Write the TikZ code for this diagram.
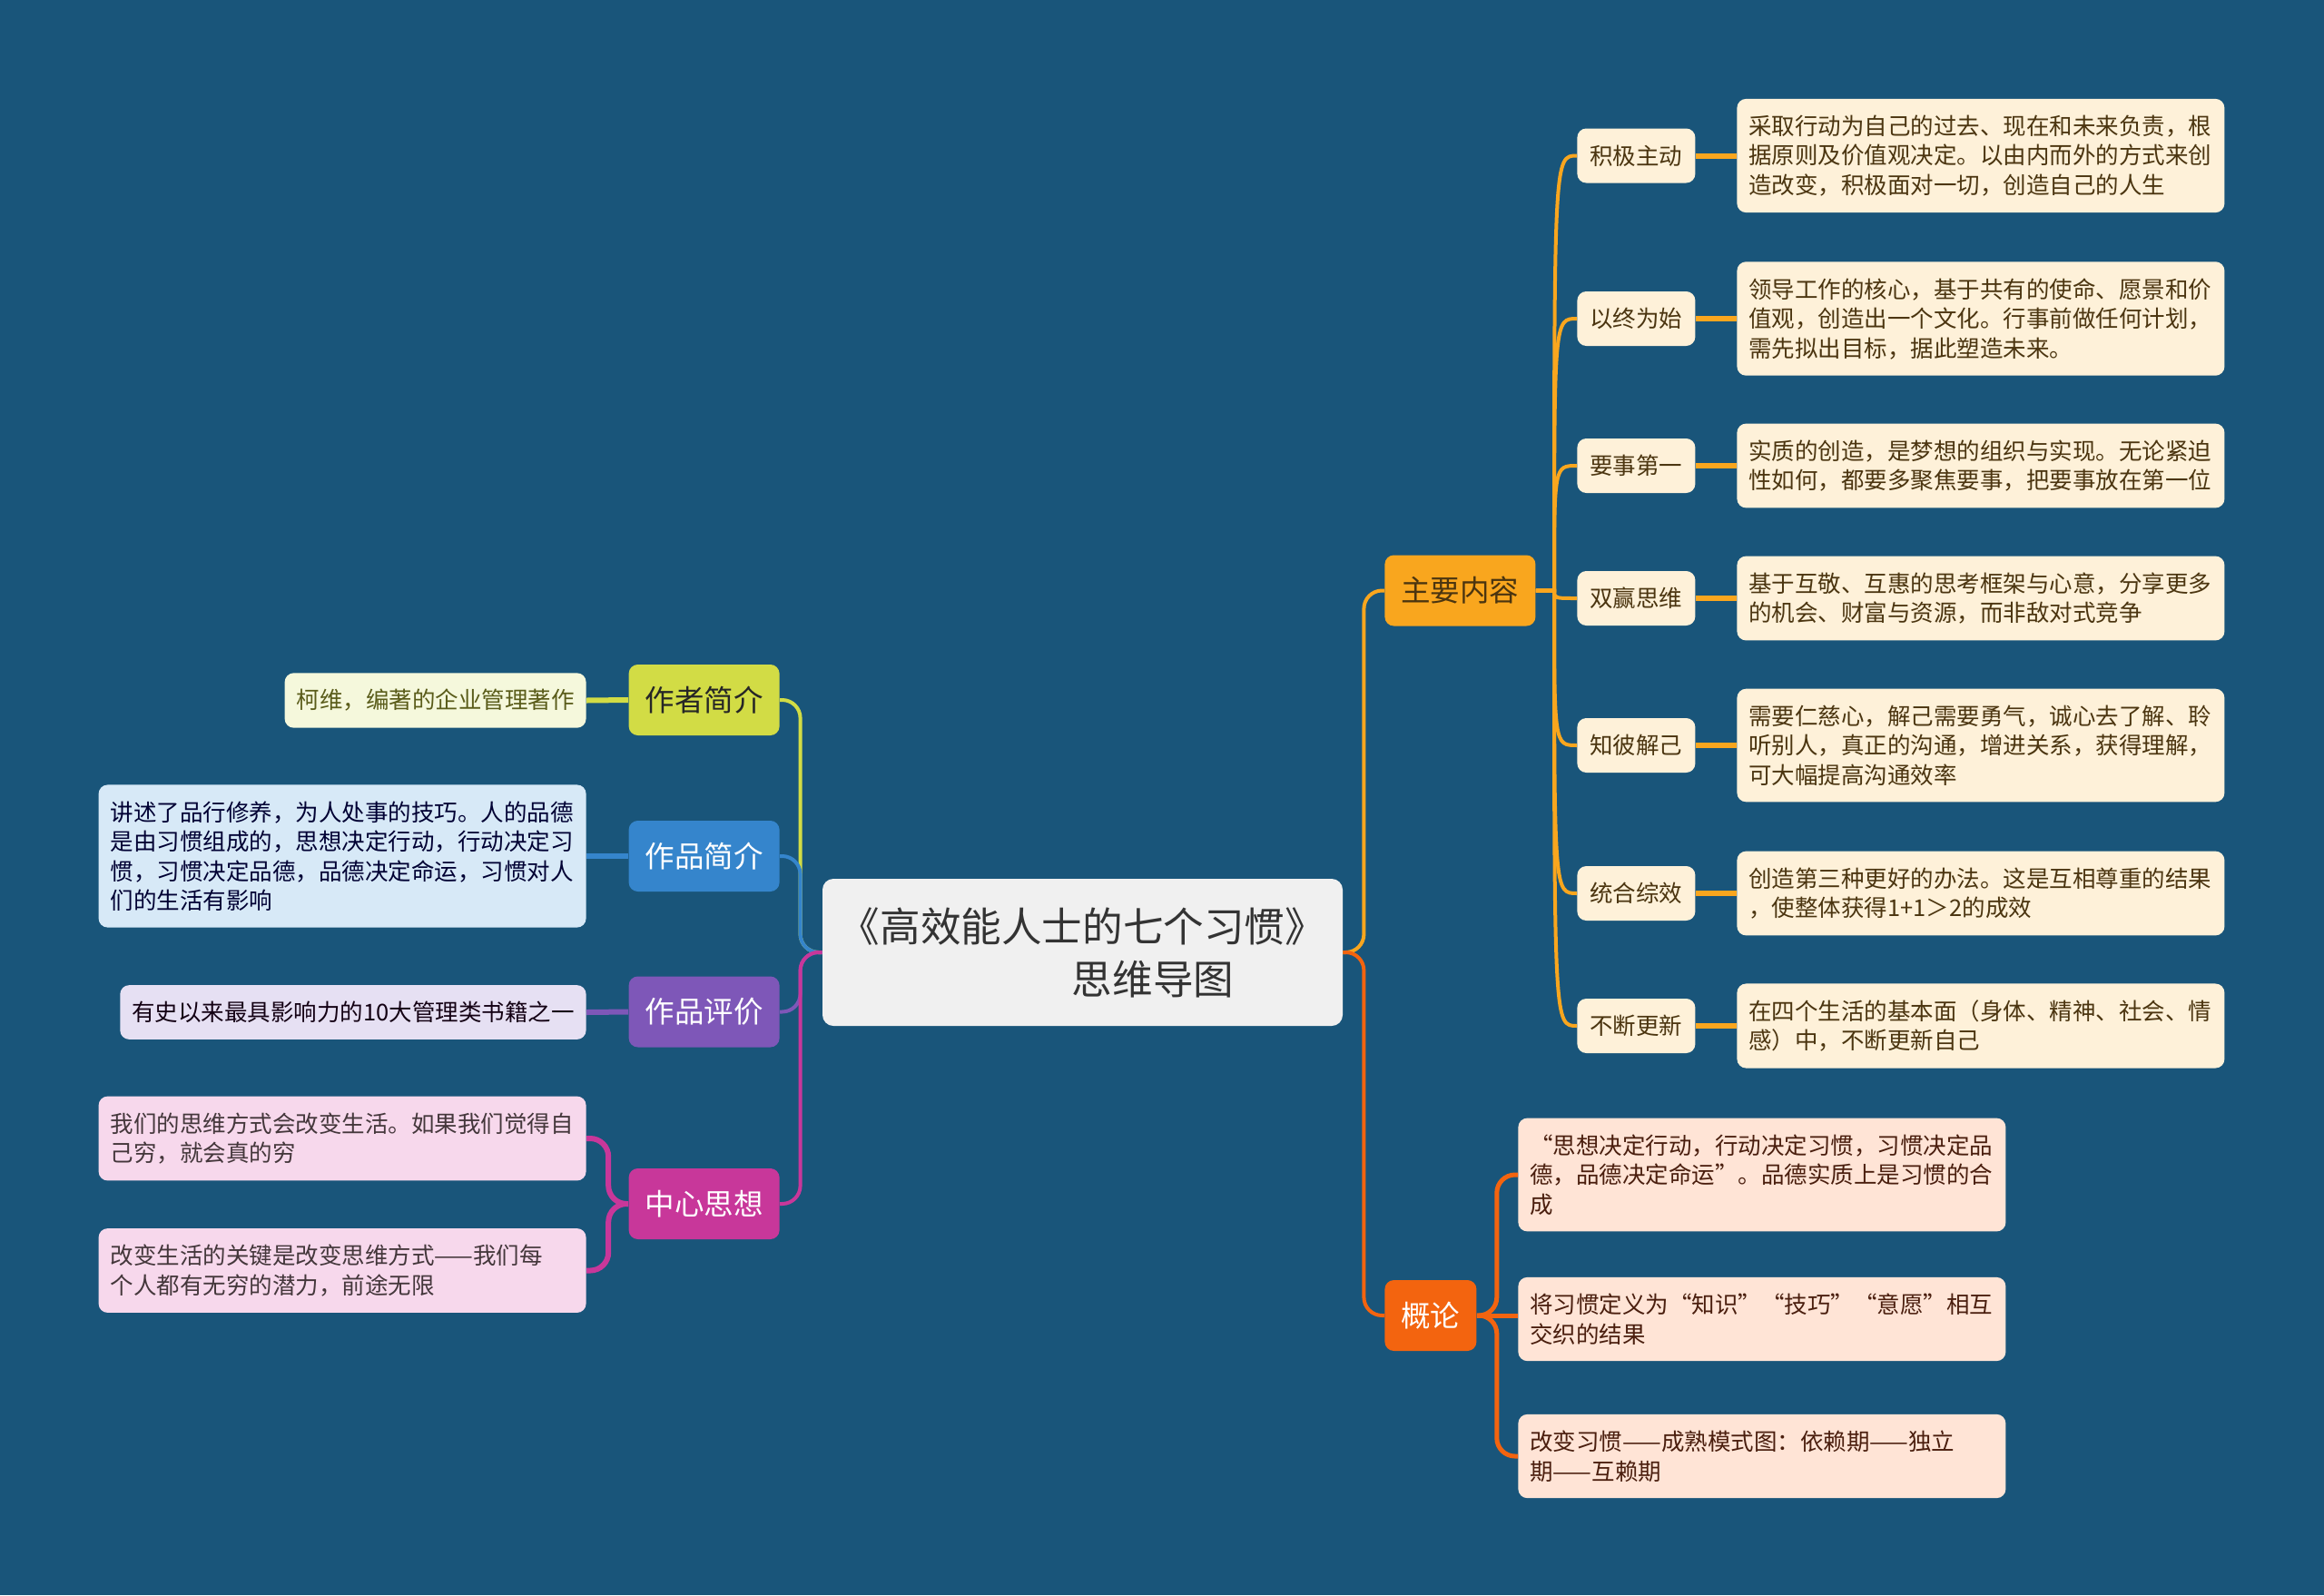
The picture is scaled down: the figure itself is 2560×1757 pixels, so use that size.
\documentclass[tikz,border=0pt]{standalone}
\usepackage{fontspec}
\setmainfont{Noto Sans CJK SC}

\definecolor{bgblue}{HTML}{19557A}
\definecolor{titlegray}{HTML}{F0F0F0}
\definecolor{mainorange}{HTML}{F9A61E}
\definecolor{generalred}{HTML}{F3640F}
\definecolor{authorgreen}{HTML}{D2DC45}
\definecolor{workblue}{HTML}{3585CC}
\definecolor{reviewpurple}{HTML}{7E57B8}
\definecolor{ideamagenta}{HTML}{C8379A}
\definecolor{habitcream}{HTML}{FEF1D9}
\definecolor{habittext}{HTML}{4B3510}
\definecolor{peach}{HTML}{FFE4D6}
\definecolor{peachtext}{HTML}{4A1E0E}
\definecolor{paleyellow}{HTML}{F5F8DC}
\definecolor{olivetext}{HTML}{5A5C1A}
\definecolor{paleblue}{HTML}{D7E9F7}
\definecolor{paleviolet}{HTML}{E6E0F3}
\definecolor{palepink}{HTML}{F7D8EC}

\begin{document}
\begin{tikzpicture}[x=0.5pt,y=-0.5pt,
  topic/.style={rounded corners=5pt,minimum height=39pt,inner xsep=9pt,
    font=\fontsize{16.25}{20}\selectfont},
  habit/.style={rounded corners=5pt,fill=habitcream,text=habittext,
    minimum width=65pt,minimum height=30pt,inner sep=0pt,
    font=\fontsize{12.75}{16}\selectfont},
  note/.style={rounded corners=5pt,align=left,inner xsep=6.5pt,inner ysep=9pt,
    font=\fontsize{12.75}{16.25}\selectfont},
  notewide/.style={note,text width=255.5pt},
  conn/.style={line width=2pt,rounded corners=10pt},
  twig/.style={line width=2pt,mainorange},
  tie/.style={line width=3pt,rounded corners=10pt},
]
  % --- fondo
  \fill[bgblue] (0,0) rectangle (2560,1757);

  % --- tema central
  \node[fill=titlegray,text=black!80,rounded corners=6pt,align=left,
        minimum width=286.5pt,minimum height=81pt,
        font=\fontsize{22.3}{29}\selectfont] (title) at (1192.5,1049)
       {《高效能人士的七个习惯》\\\hspace*{128pt}思维导图};

  % --- ramas izquierdas
  \node[topic,fill=authorgreen,text=black!85,anchor=east] (zzjj) at (859,771) {作者简介};
  \node[topic,fill=workblue,text=white,anchor=east]     (zpjj) at (859,943) {作品简介};
  \node[topic,fill=reviewpurple,text=white,anchor=east] (zppj) at (859,1114.5) {作品评价};
  \node[topic,fill=ideamagenta,text=white,anchor=east]  (zxsx) at (859,1326) {中心思想};

  \node[note,fill=paleyellow,text=olivetext,anchor=east] (n1) at (646,771.5)
       {柯维，编著的企业管理著作};
  \node[notewide,fill=paleblue,text=black!80!blue,anchor=east] (n2) at (646,943)
       {讲述了品行修养，为人处事的技巧。人的品德\\是由习惯组成的，思想决定行动，行动决定习\\惯，习惯决定品德，品德决定命运，习惯对人\\们的生活有影响};
  \node[note,fill=paleviolet,text=black!85!violet,anchor=east] (n3) at (646,1115)
       {有史以来最具影响力的10大管理类书籍之一};
  \node[notewide,fill=palepink,text=black!85!magenta,anchor=east] (n4) at (646,1254)
       {我们的思维方式会改变生活。如果我们觉得自\\己穷，就会真的穷};
  \node[notewide,fill=palepink,text=black!85!magenta,anchor=east] (n5) at (646,1399.5)
       {改变生活的关键是改变思维方式——我们每\\个人都有无穷的潜力，前途无限};

  % --- ramas derechas
  \node[topic,fill=mainorange,text=habittext,anchor=west] (zyn) at (1525,650.5) {主要内容};
  \node[topic,fill=generalred,text=white,anchor=west]     (gl)  at (1525,1449) {概论};

  % --- siete habitos
  \node[habit,anchor=west] (h1) at (1737,171.5) {积极主动};
  \node[habit,anchor=west] (h2) at (1737,351)   {以终为始};
  \node[habit,anchor=west] (h3) at (1737,513)   {要事第一};
  \node[habit,anchor=west] (h4) at (1737,659)   {双赢思维};
  \node[habit,anchor=west] (h5) at (1737,821)   {知彼解己};
  \node[habit,anchor=west] (h6) at (1737,984)   {统合综效};
  \node[habit,anchor=west] (h7) at (1737,1130)  {不断更新};

  \node[notewide,fill=habitcream,text=habittext,anchor=west] (d1) at (1913,171.5)
       {采取行动为自己的过去、现在和未来负责，根\\据原则及价值观决定。以由内而外的方式来创\\造改变，积极面对一切，创造自己的人生};
  \node[notewide,fill=habitcream,text=habittext,anchor=west] (d2) at (1913,351)
       {领导工作的核心，基于共有的使命、愿景和价\\值观，创造出一个文化。行事前做任何计划，\\需先拟出目标，据此塑造未来。};
  \node[notewide,fill=habitcream,text=habittext,anchor=west] (d3) at (1913,513)
       {实质的创造，是梦想的组织与实现。无论紧迫\\性如何，都要多聚焦要事，把要事放在第一位};
  \node[notewide,fill=habitcream,text=habittext,anchor=west] (d4) at (1913,659)
       {基于互敬、互惠的思考框架与心意，分享更多\\的机会、财富与资源，而非敌对式竞争};
  \node[notewide,fill=habitcream,text=habittext,anchor=west] (d5) at (1913,821)
       {需要仁慈心，解己需要勇气，诚心去了解、聆\\听别人，真正的沟通，增进关系，获得理解，\\可大幅提高沟通效率};
  \node[notewide,fill=habitcream,text=habittext,anchor=west] (d6) at (1913,984)
       {创造第三种更好的办法。这是互相尊重的结果\\，使整体获得1+1＞2的成效};
  \node[notewide,fill=habitcream,text=habittext,anchor=west] (d7) at (1913,1130)
       {在四个生活的基本面（身体、精神、社会、情\\感）中，不断更新自己};

  % --- notas del resumen
  \node[notewide,fill=peach,text=peachtext,anchor=west] (g1) at (1672,1294)
       {“思想决定行动，行动决定习惯，习惯决定品\\德，品德决定命运”。品德实质上是习惯的合\\成};
  \node[notewide,fill=peach,text=peachtext,anchor=west] (g2) at (1672,1453)
       {将习惯定义为“知识”“技巧”“意愿”相互\\交织的结果};
  \node[notewide,fill=peach,text=peachtext,anchor=west] (g3) at (1672,1604)
       {改变习惯——成熟模式图：依赖期——独立\\期——互赖期};

  % --- conectores del centro
  \draw[conn,authorgreen]  (title.west) -- ++(-24,0) |- (zzjj.east);
  \draw[conn,workblue]     (title.west) -- ++(-24,0) |- (zpjj.east);
  \draw[conn,reviewpurple] (title.west) -- ++(-24,0) |- (zppj.east);
  \draw[conn,ideamagenta]  (title.west) -- ++(-24,0) |- (zxsx.east);
  \draw[conn,mainorange]   (title.east) -- ++(23,0) |- (zyn.west);
  \draw[conn,generalred]   (title.east) -- ++(23,0) |- (gl.west);

  % --- conectores izquierdos
  \draw[tie,authorgreen]  (zzjj.west) -- (n1.east);
  \draw[tie,workblue]     (zpjj.west) -- (n2.east);
  \draw[tie,reviewpurple] (zppj.west) -- (n3.east);
  \draw[tie,ideamagenta]  (zxsx.west) -- ++(-22,0) |- (n4.east);
  \draw[tie,ideamagenta]  (zxsx.west) -- ++(-22,0) |- (n5.east);

  % --- conectores de los habitos
  \coordinate (zynj) at (1712,650.5);
  \draw[twig] (zyn.east) -- (zynj) .. controls (zynj |- h1.west) .. (h1.west);
  \draw[twig] (zyn.east) -- (zynj) .. controls (zynj |- h2.west) .. (h2.west);
  \draw[twig] (zyn.east) -- (zynj) .. controls (zynj |- h3.west) .. (h3.west);
  \draw[twig] (zyn.east) -- (zynj) .. controls (zynj |- h4.west) .. (h4.west);
  \draw[twig] (zyn.east) -- (zynj) .. controls (zynj |- h5.west) .. (h5.west);
  \draw[twig] (zyn.east) -- (zynj) .. controls (zynj |- h6.west) .. (h6.west);
  \draw[twig] (zyn.east) -- (zynj) .. controls (zynj |- h7.west) .. (h7.west);
  \draw[tie,mainorange] (h1.east) -- (d1.west);
  \draw[tie,mainorange] (h2.east) -- (d2.west);
  \draw[tie,mainorange] (h3.east) -- (d3.west);
  \draw[tie,mainorange] (h4.east) -- (d4.west);
  \draw[tie,mainorange] (h5.east) -- (d5.west);
  \draw[tie,mainorange] (h6.east) -- (d6.west);
  \draw[tie,mainorange] (h7.east) -- (d7.west);

  % --- conectores del resumen
  \draw[tie,line width=2.5pt,generalred] (gl.east) -- ++(22,0) |- (g1.west);
  \draw[tie,line width=2.5pt,generalred] (gl.east) -- (g2.west |- gl.east);
  \draw[tie,line width=2.5pt,generalred] (gl.east) -- ++(22,0) |- (g3.west);
\end{tikzpicture}
\end{document}
